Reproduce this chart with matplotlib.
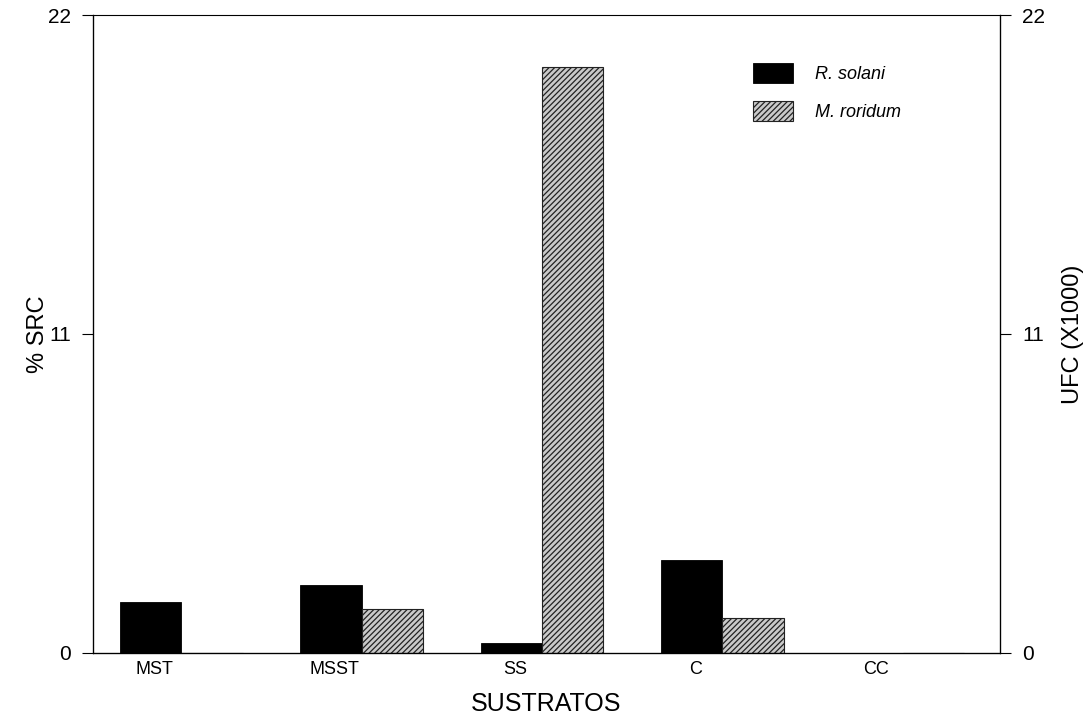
import numpy as np
import matplotlib
matplotlib.use("Agg")
import matplotlib.pyplot as plt

plt.rcParams["font.family"] = ["Liberation Sans", "DejaVu Sans"]
plt.rcParams["hatch.linewidth"] = 0.9

sustratos = ["MST", "MSST", "SS", "C", "CC"]
r_solani = [1.75, 2.35, 0.35, 3.2, 0.0]     # % SRC
m_roridum = [0.0, 1.5, 20.2, 1.2, 0.0]      # UFC (x1000)
yticks = [0, 11, 22]

fig = plt.figure(figsize=(10.89, 7.26), dpi=100)
ax = fig.add_axes([0.0854, 0.101, 0.8329, 0.878])

x = np.arange(len(sustratos))
w = 0.34
ax.bar(x - w / 2, r_solani, w, color="black", edgecolor="black", lw=0.6,
       label="R. solani")
ax.bar(x + w / 2, m_roridum, w, color="#c9c9c9", edgecolor="#222222",
       hatch="//////", lw=0.8, label="M. roridum")

ax.set_xlim(-0.49, len(sustratos) - 1 + 0.54)
ax.set_ylim(0, 22)
ax.set_yticks(yticks)
ax.set_yticklabels([str(v) for v in yticks], fontsize=15)
ax.set_xticks(x - 0.15)
ax.set_xticklabels(sustratos, fontsize=13)
ax.tick_params(axis="x", length=0, pad=6)
ax.tick_params(axis="y", direction="out", length=8, width=0.8, pad=8)
for s in ax.spines.values():
    s.set_linewidth(0.9)
ax.spines["top"].set_linewidth(0.5)

ax.set_ylabel("% SRC", fontsize=17, labelpad=-1)
ax.set_xlabel("SUSTRATOS", fontsize=18, labelpad=10)

ax2 = ax.twinx()
ax2.set_ylim(0, 22)
ax2.set_yticks(yticks)
ax2.set_yticklabels([str(v) for v in yticks], fontsize=15)
ax2.tick_params(axis="y", direction="out", length=8, width=0.8, pad=8)
ax2.set_ylabel("UFC (X1000)", fontsize=17, labelpad=12)

leg = ax.legend(loc="upper left", bbox_to_anchor=(0.71, 0.95), frameon=False,
                prop={"style": "italic", "size": 13}, handlelength=2.2,
                handleheight=1.3, labelspacing=1.0, handletextpad=1.2)

fig.savefig("out.png", dpi=100, facecolor="white")
